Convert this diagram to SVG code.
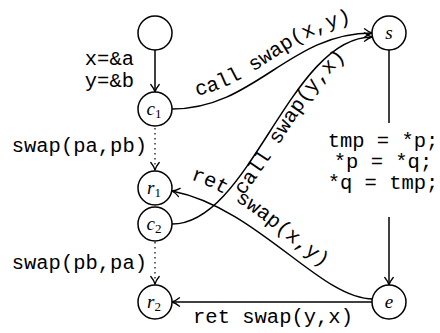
<svg xmlns="http://www.w3.org/2000/svg" xmlns:xlink="http://www.w3.org/1999/xlink" width="440" height="333" viewBox="0 0 440 333">
<style>
.node{fill:#fff;stroke:#000;stroke-width:1.5}
.edge{fill:none;stroke:#000;stroke-width:1.5}
.dot{fill:none;stroke:#000;stroke-width:1.2;stroke-dasharray:1.4 3.6}
.tt{font-family:"Liberation Mono","Courier New",monospace;font-size:20.5px;fill:#000}
.m{font-family:"Liberation Serif","Times New Roman",serif;font-style:italic;font-size:19px;fill:#000}
.sub{font-style:normal;font-size:13px}
</style>
<defs>
<marker id="arr" markerUnits="userSpaceOnUse" markerWidth="12" markerHeight="12" viewBox="-9 -6 10 12" refX="0" refY="0" orient="auto">
<path d="M-7.5,-4.2 C-4.5,-1.8 -1.8,-0.5 0,0 C-1.8,0.5 -4.5,1.8 -7.5,4.2" fill="none" stroke="#000" stroke-width="1.3" stroke-linecap="round"/>
</marker>
<path id="p1t" d="M172,98 C255,98 289,21 372,21"/>
<path id="p2t" d="M185,231 C263,231 303,44 385,44"/>
<path id="p3t" d="M178,176 C262,195 324,291 377,291"/>
</defs>
<g id="connectors">
<line class="edge" x1="155" y1="50" x2="155" y2="92" marker-end="url(#arr)"/>
<text class="tt" x="134" y="65" text-anchor="end">x=&amp;a</text>
<text class="tt" x="134" y="87" text-anchor="end">y=&amp;b</text>
<line class="dot" x1="155" y1="128" x2="155" y2="170" marker-end="url(#arr)"/>
<text class="tt" x="147" y="152" text-anchor="end">swap(pa,pb)</text>
<line class="dot" x1="155" y1="242" x2="155" y2="284" marker-end="url(#arr)"/>
<text class="tt" x="147" y="269" text-anchor="end">swap(pb,pa)</text>
<path class="edge" d="M172,109 C255,109 289,33 372,33" marker-end="url(#arr)"/>
<text class="tt"><textPath href="#p1t" startOffset="51%" text-anchor="middle">call swap(x,y)</textPath></text>
<path class="edge" d="M172,224 C250,224 290,37 372,37" marker-end="url(#arr)"/>
<text class="tt"><textPath href="#p2t" startOffset="55%" text-anchor="middle">call swap(y,x)</textPath></text>
<path class="edge" d="M373,299 C320,299 258,208 172,191" marker-end="url(#arr)"/>
<text class="tt"><textPath href="#p3t" startOffset="40%" text-anchor="middle">ret swap(x,y)</textPath></text>
<line class="edge" x1="389" y1="50" x2="389" y2="123"/>
<text class="tt" x="383" y="147" text-anchor="middle">tmp = *p;</text>
<text class="tt" x="383" y="168" text-anchor="middle">*p = *q;</text>
<text class="tt" x="383" y="189" text-anchor="middle">*q = tmp;</text>
<line class="edge" x1="389" y1="217" x2="389" y2="285" marker-end="url(#arr)"/>
<line class="edge" x1="372" y1="302" x2="172" y2="302" marker-end="url(#arr)"/>
<text class="tt" x="273" y="323" text-anchor="middle">ret swap(y,x)</text>
</g>
<g id="n0"><circle class="node" cx="155" cy="33" r="17"/></g>
<g id="c1"><circle class="node" cx="155" cy="109" r="17"/><text class="m" x="154" y="115" text-anchor="middle">c<tspan class="sub" dy="3">1</tspan></text></g>
<g id="r1"><circle class="node" cx="155" cy="188" r="17"/><text class="m" x="154" y="194" text-anchor="middle">r<tspan class="sub" dy="3">1</tspan></text></g>
<g id="c2"><circle class="node" cx="155" cy="224" r="17"/><text class="m" x="154" y="230" text-anchor="middle">c<tspan class="sub" dy="3">2</tspan></text></g>
<g id="r2"><circle class="node" cx="155" cy="302" r="17"/><text class="m" x="154" y="308" text-anchor="middle">r<tspan class="sub" dy="3">2</tspan></text></g>
<g id="s"><circle class="node" cx="389" cy="33" r="17"/><text class="m" x="389" y="39" text-anchor="middle">s</text></g>
<g id="e"><circle class="node" cx="389" cy="302" r="17"/><text class="m" x="389" y="308" text-anchor="middle">e</text></g>
</svg>
